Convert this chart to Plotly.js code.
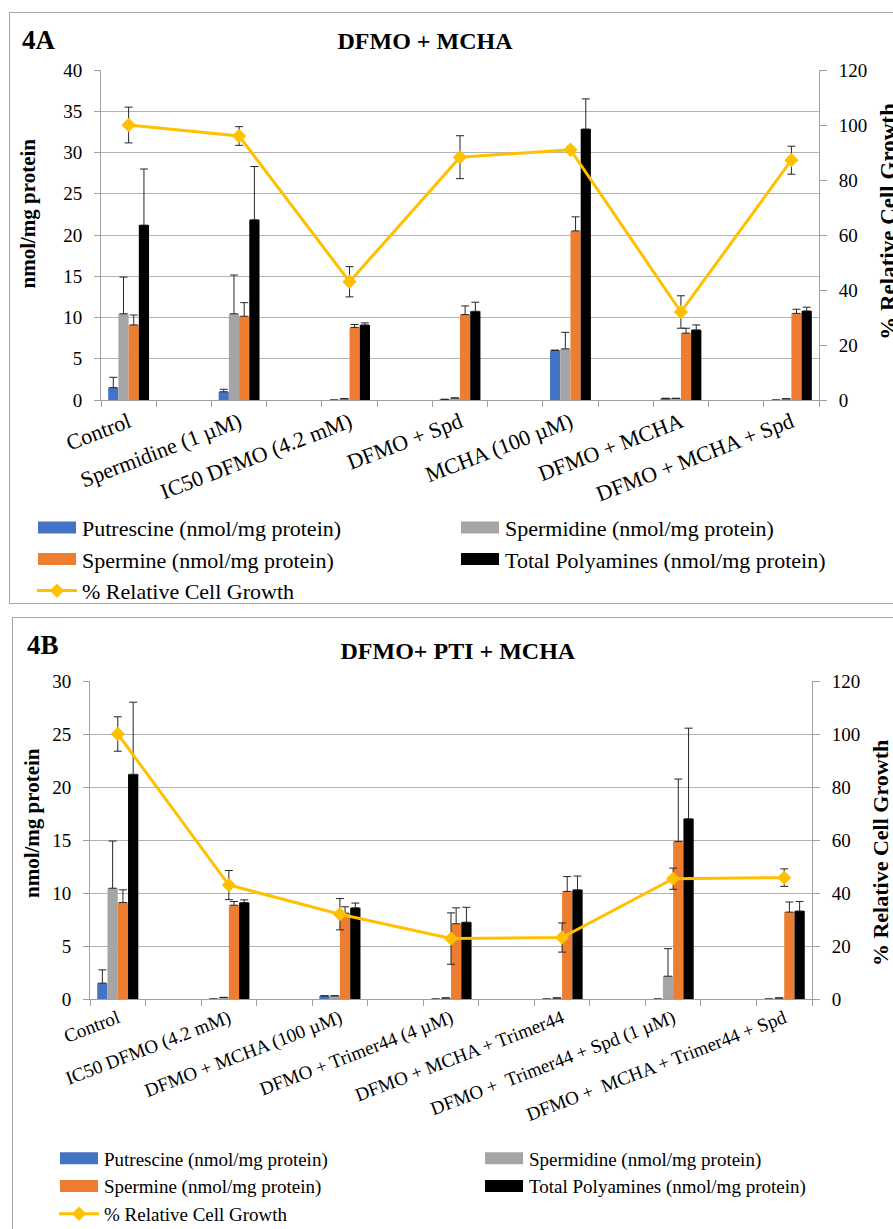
<!DOCTYPE html>
<html>
<head>
<meta charset="utf-8">
<script src="https://cdn.plot.ly/plotly-3.0.1.min.js"></script>
<style>
  html, body { margin: 0; padding: 0; background: #fff; overflow: hidden; width: 893px; height: 1229px; }
  .box { position: absolute; border: 1px solid #a6a6a6; background: #fff; }
  #chartA { left: 9px; top: 12px; width: 895px; height: 590px; }
  #chartB { left: 12px; top: 617px; width: 895px; height: 620px; }
</style>
</head>
<body>
<div id="chartA" class="box"></div>
<div id="chartB" class="box"></div>
<script>
// ---------- Data: Figure 4A (DFMO + MCHA) ----------
const categoriesA = ['Control', 'Spermidine (1 µM)', 'IC50 DFMO (4.2 mM)', 'DFMO + Spd', 'MCHA (100 µM)', 'DFMO + MCHA', 'DFMO + MCHA + Spd'];
const putrescineA    = [1.5, 1.0, 0, 0.08, 6.0, 0.2, 0];
const putrescineErrA = [1.25, 0.3, 0, 0, 0.05, 0, 0];
const spermidineA    = [10.45, 10.45, 0.15, 0.25, 6.2, 0.2, 0.15];
const spermidineErrA = [4.45, 4.7, 0, 0, 2.0, 0, 0];
const spermineA      = [9.1, 10.15, 8.8, 10.35, 20.5, 8.1, 10.5];
const spermineErrA   = [1.2, 1.65, 0.35, 1.05, 1.7, 0.6, 0.5];
const totalA         = [21.2, 21.85, 9.1, 10.75, 32.85, 8.5, 10.8];
const totalErrA      = [6.8, 6.45, 0.25, 1.1, 3.65, 0.6, 0.45];
const growthA        = [100, 96, 43, 88.3, 91, 32, 87.2];
const growthErrA     = [6.5, 3.4, 5.5, 7.8, 1, 5.9, 5.1];

// ---------- Data: Figure 4B (DFMO + PTI + MCHA) ----------
const categoriesB = ['Control', 'IC50 DFMO (4.2 mM)', 'DFMO + MCHA (100 µM)', 'DFMO + Trimer44 (4 µM)', 'DFMO + MCHA + Trimer44', 'DFMO +  Trimer44 + Spd (1 µM)', 'DFMO +  MCHA + Trimer44 + Spd'];
const putrescineB    = [1.5, 0, 0.3, 0, 0, 0, 0];
const putrescineErrB = [1.25, 0, 0, 0, 0, 0, 0];
const spermidineB    = [10.45, 0.15, 0.3, 0.1, 0.1, 2.15, 0.1];
const spermidineErrB = [4.45, 0, 0, 0, 0, 2.6, 0];
const spermineB      = [9.1, 8.85, 8.1, 7.1, 10.15, 14.85, 8.2];
const spermineErrB   = [1.2, 0.35, 0.6, 1.5, 1.4, 5.9, 0.95];
const totalB         = [21.2, 9.1, 8.6, 7.25, 10.3, 17.0, 8.3];
const totalErrB      = [6.8, 0.25, 0.45, 1.4, 1.3, 8.55, 0.9];
const growthB        = [100, 43, 32, 22.8, 23.2, 45.4, 45.8];
const growthErrB     = [6.5, 5.5, 5.9, 9.7, 5.5, 4, 3.3];

const seriesNames = ['Putrescine (nmol/mg protein)', 'Spermidine (nmol/mg protein)', 'Spermine (nmol/mg protein)', 'Total Polyamines (nmol/mg protein)', '% Relative Cell Growth'];
const seriesColors = ['#4472C4', '#A5A5A5', '#ED7D31', '#000000', '#FFC000'];
// legend column of each series (two-column legend like the original)
const seriesLegend = ['legend', 'legend2', 'legend', 'legend2', 'legend'];
const leftTitle = 'nmol/mg protein';
const rightTitle = '% Relative Cell Growth';

const FONT = 'Liberation Serif';
const GRID = '#b2b2b2';
const AXIS = '#a0a0a0';
const ERR = '#262626';

function buildTraces(cats, barSets, growth, growthErr) {
  // categories sit on every other slot (empty slot between them), like the original
  const xs = cats.map((c, i) => 2 * i);
  const traces = barSets.map((s, k) => ({
    type: 'bar', name: seriesNames[k], x: xs, y: s.v,
    legend: seriesLegend[k],
    marker: { color: seriesColors[k], line: { width: 0 } },
    error_y: { type: 'data', symmetric: false, array: s.e, arrayminus: s.e.map(() => 0),
               color: ERR, thickness: 1, width: 4 },
    hoverinfo: 'skip'
  }));
  traces.push({
    type: 'scatter', mode: 'lines+markers', name: seriesNames[4], x: xs, y: growth, yaxis: 'y2',
    legend: seriesLegend[4],
    line: { color: seriesColors[4], width: 3 },
    marker: { symbol: 'diamond', size: 11, color: seriesColors[4] },
    error_y: { type: 'data', array: growthErr, color: ERR, thickness: 1, width: 4 },
    hoverinfo: 'skip'
  });
  return { traces, xs };
}

function legendSpec(x, y, size) {
  return {
    orientation: 'v', xref: 'container', yref: 'container', x: x, xanchor: 'left', y: y, yanchor: 'top',
    font: { family: FONT, size: size, color: '#000' }, itemwidth: 40,
    traceorder: 'normal', bgcolor: 'rgba(0,0,0,0)', borderwidth: 0
  };
}

function txt(text, x, y, size, angle) {
  return { text: '<b>' + text + '</b>', xref: 'paper', yref: 'paper', x: x, y: y,
           xanchor: 'center', yanchor: 'middle', showarrow: false, textangle: angle,
           font: { family: FONT, size: size, color: '#000' } };
}

function baseLayout(o) {
  const xs = o.xs;
  const n = xs.length * 2 - 1;
  const bounds = []; for (let i = 0; i <= n; i++) bounds.push(i - 0.5);
  return {
    width: o.width, height: o.height,
    margin: Object.assign({ autoexpand: false }, o.margin),
    paper_bgcolor: 'rgba(0,0,0,0)', plot_bgcolor: 'rgba(0,0,0,0)',
    font: { family: FONT, color: '#000' },
    barmode: 'group', bargap: 0.63, bargroupgap: 0,
    showlegend: true,
    title: { text: '<b>' + o.title + '</b>', font: { family: FONT, size: 24, color: '#000' },
             x: o.titleX, xref: 'container', xanchor: 'center', y: o.titleY, yref: 'container', yanchor: 'middle' },
    xaxis: {
      range: [-0.5, n - 0.5], tickmode: 'array', tickvals: xs,
      ticktext: o.cats.map(c => c.replace(/  /g, ' \u00a0')), tickangle: -21,
      ticks: '', tickfont: { family: FONT, size: o.catSize, color: '#000' },
      showline: true, linecolor: AXIS, linewidth: 1, showgrid: false, zeroline: false,
      minor: { tickmode: 'array', tickvals: bounds, ticks: 'outside', ticklen: 6, tickcolor: AXIS, tickwidth: 1, showgrid: false }
    },
    yaxis: {
      range: [0, o.yMax], tick0: 0, dtick: 5, tickmode: 'linear',
      ticks: 'outside', ticklen: 6, tickcolor: AXIS, ticklabelstandoff: 8,
      tickfont: { family: FONT, size: o.numSize, color: '#000' },
      showgrid: true, gridcolor: GRID, gridwidth: 1, zeroline: false,
      showline: true, linecolor: AXIS, linewidth: 1
    },
    yaxis2: {
      overlaying: 'y', side: 'right', range: [0, 120], tick0: 0, dtick: 20, tickmode: 'linear',
      ticks: 'outside', ticklen: 7, tickcolor: AXIS, ticklabelstandoff: 8,
      tickfont: { family: FONT, size: o.numSize, color: '#000' },
      showgrid: false, zeroline: false, showline: true, linecolor: AXIS, linewidth: 1
    },
    legend: legendSpec(o.legX, o.legY, o.legSize),
    legend2: legendSpec(o.leg2X, o.legY, o.legSize),
    annotations: [
      txt(o.tag, o.tagX, o.tagY, 27, 0),
      txt(leftTitle, o.lt[0], o.lt[1], 21, -90),
      txt(rightTitle, o.rt[0], o.rt[1], o.rtSize, -90)
    ]
  };
}

function widenLegend(gd) {
  // Excel-style wide legend swatches
  gd.querySelectorAll('.legendpoints path').forEach(p => {
    const d = p.getAttribute('d') || '';
    if (/^M6,6H-6V-6H6Z$/.test(d)) p.setAttribute('d', 'M19,6H-19V-6H19Z');
  });
}

const cfg = { displayModeBar: false, staticPlot: true };

const A = buildTraces(categoriesA, [
  { v: putrescineA, e: putrescineErrA }, { v: spermidineA, e: spermidineErrA },
  { v: spermineA, e: spermineErrA }, { v: totalA, e: totalErrA }], growthA, growthErrA);
Plotly.newPlot('chartA', A.traces, baseLayout({
  xs: A.xs, cats: categoriesA, width: 895, height: 590, margin: { l: 91, r: 86, t: 57, b: 203 },
  title: 'DFMO + MCHA', titleX: 0.4637, titleY: 0.954, yMax: 40, catSize: 22, numSize: 19,
  legX: 0.0246, leg2X: 0.4972, legY: 0.1634, legSize: 22,
  tag: '4A', tagX: -0.0857, tagY: 1.09, lt: [-0.1017, 0.565], rt: [1.0975, 0.54], rtSize: 23
}), cfg).then(widenLegend);

const B = buildTraces(categoriesB, [
  { v: putrescineB, e: putrescineErrB }, { v: spermidineB, e: spermidineErrB },
  { v: spermineB, e: spermineErrB }, { v: totalB, e: totalErrB }], growthB, growthErrB);
Plotly.newPlot('chartB', B.traces, baseLayout({
  xs: B.xs, cats: categoriesB, width: 895, height: 620, margin: { l: 77, r: 96, t: 63, b: 239 },
  title: 'DFMO+ PTI + MCHA', titleX: 0.497, titleY: 0.948, yMax: 30, catSize: 19, numSize: 19,
  legX: 0.0458, leg2X: 0.5207, legY: 0.159, legSize: 19,
  tag: '4B', tagX: -0.0655, tagY: 1.113, lt: [-0.0796, 0.552], rt: [1.0942, 0.459], rtSize: 22
}), cfg).then(widenLegend);
</script>
</body>
</html>
